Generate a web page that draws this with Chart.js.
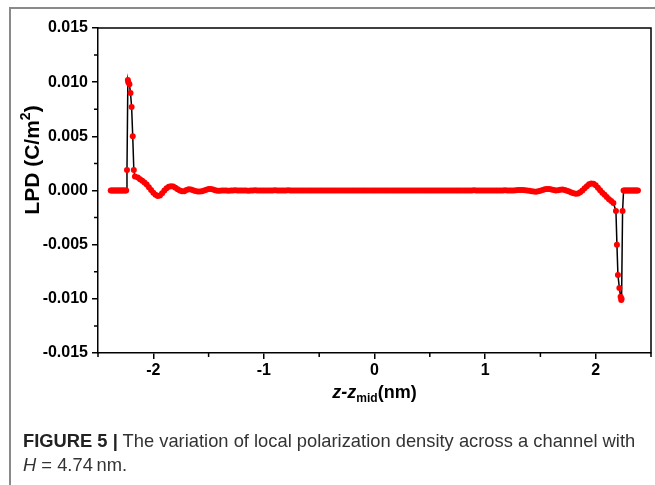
<!DOCTYPE html>
<html>
<head>
<meta charset="utf-8">
<script src="https://cdn.jsdelivr.net/npm/chart.js@4.4.1/dist/chart.umd.min.js"></script>
<style>
  body { margin: 0; background: #fff; }
  #wrap { position: relative; width: 655px; height: 485px; overflow: hidden; }
  #frame { position: absolute; left: 9px; top: 7px; width: 660px; height: 490px;
           border-left: 2px solid #8a8a8a; border-top: 2px solid #8a8a8a; }
  #caption { position: absolute; left: 23px; top: 429px; white-space: nowrap;
             font-family: "Liberation Sans", Arial, sans-serif;
             font-size: 19px; line-height: 24px; color: #333;
             transform: scaleX(0.965); transform-origin: 0 0; }
  #caption b { color: #222; }
</style>
</head>
<body>
<div id="wrap">
  <canvas id="lpdChart" width="655" height="485"></canvas>
  <div id="frame"></div>
  <div id="caption"><b>FIGURE 5 |</b> The variation of local polarization density across a channel with<br><i>H</i> = 4.74&#8201;nm.</div>
</div>
<script>
// left edge: flat part, then the spike
const zLeftFlat = [-2.385, -2.375, -2.365, -2.355, -2.345, -2.335, -2.325, -2.315, -2.305, -2.295, -2.285, -2.275, -2.265, -2.255, -2.245];
const lpdLeftFlat = [0, 0, 0, 0, 0, 0, 0, 0, 0, 0, 0, 0, 0, 0, 0];
const zLeftPeak = [-2.238, -2.230, -2.226, -2.216, -2.206, -2.196, -2.186, -2.176, -2.166];
const lpdLeftPeak = [0.0019, 0.0102, 0.0100, 0.0098, 0.0090, 0.0077, 0.0050, 0.0019, 0.0013];

// channel interior (values in 1e-4 C/m^2)
const zCore = [
  -2.14, -2.12, -2.10, -2.08, -2.06, -2.04, -2.02, -2.00, -1.98, -1.96,
  -1.94, -1.92, -1.90, -1.88, -1.86, -1.84, -1.82, -1.80, -1.78, -1.76,
  -1.74, -1.72, -1.70, -1.68, -1.66, -1.64, -1.62, -1.60, -1.58, -1.56,
  -1.54, -1.52, -1.50, -1.48, -1.46, -1.44, -1.42, -1.40, -1.38, -1.36,
  -1.34, -1.32, -1.30, -1.28, -1.26, -1.24, -1.22, -1.20, -1.18, -1.16,
  -1.14, -1.12, -1.10, -1.08, -1.06, -1.04, -1.02, -1.00, -0.98, -0.96,
  -0.94, -0.92, -0.90, -0.88, -0.86, -0.84, -0.82, -0.80, -0.78, -0.76,
  -0.74, -0.72, -0.70, -0.68, -0.66, -0.64, -0.62, -0.60, -0.58, -0.56,
  -0.54, -0.52, -0.50, -0.48, -0.46, -0.44, -0.42, -0.40, -0.38, -0.36,
  -0.34, -0.32, -0.30, -0.28, -0.26, -0.24, -0.22, -0.20, -0.18, -0.16,
  -0.14, -0.12, -0.10, -0.08, -0.06, -0.04, -0.02, 0.00, 0.02, 0.04,
  0.06, 0.08, 0.10, 0.12, 0.14, 0.16, 0.18, 0.20, 0.22, 0.24,
  0.26, 0.28, 0.30, 0.32, 0.34, 0.36, 0.38, 0.40, 0.42, 0.44,
  0.46, 0.48, 0.50, 0.52, 0.54, 0.56, 0.58, 0.60, 0.62, 0.64,
  0.66, 0.68, 0.70, 0.72, 0.74, 0.76, 0.78, 0.80, 0.82, 0.84,
  0.86, 0.88, 0.90, 0.92, 0.94, 0.96, 0.98, 1.00, 1.02, 1.04,
  1.06, 1.08, 1.10, 1.12, 1.14, 1.16, 1.18, 1.20, 1.22, 1.24,
  1.26, 1.28, 1.30, 1.32, 1.34, 1.36, 1.38, 1.40, 1.42, 1.44,
  1.46, 1.48, 1.50, 1.52, 1.54, 1.56, 1.58, 1.60, 1.62, 1.64,
  1.66, 1.68, 1.70, 1.72, 1.74, 1.76, 1.78, 1.80, 1.82, 1.84,
  1.86, 1.88, 1.90, 1.92, 1.94, 1.96, 1.98, 2.00, 2.02, 2.04,
  2.06, 2.08, 2.10, 2.12, 2.14, 2.16
];
const lpdCore = [
  12, 10.5, 9, 7.5, 5.5, 3, 0.5, -2, -4, -5,
  -4.5, -2.5, 0, 2, 3.5, 4, 3.6, 2.6, 1.2, 0,
  -0.8, -0.6, 0.4, 1.2, 1.0, 0.3, -0.4, -0.9, -1.0, -0.7,
  0, 0.8, 1.3, 1.4, 0.9, 0.2, -0.2, -0.3, -0.1, 0.1,
  0, -0.2, -0.1, 0.1, 0.2, 0, -0.1, 0, 0.1, 0,
  -0.2, -0.1, 0.1, 0.2, 0.1, 0, -0.1, 0, 0.1, 0,
  -0.1, 0, 0.2, 0.1, 0, -0.1, 0, 0.1, 0.2, 0.1,
  0, -0.1, 0, 0.1, 0, -0.1, 0, 0.1, 0, 0,
  -0.1, 0, 0.1, 0.1, 0, -0.1, 0, 0.1, 0, -0.1,
  0, 0.1, 0.1, 0, -0.1, 0, 0.1, 0, 0, -0.1,
  0, 0.1, 0, -0.1, 0, 0.1, 0, 0, -0.1, 0,
  0.1, 0, -0.1, 0, 0.1, 0.1, 0, -0.1, 0, 0.1,
  0, 0, -0.1, 0, 0.1, 0, -0.1, 0, 0.1, 0.1,
  0, -0.1, 0, 0.1, 0, -0.1, 0, 0.1, 0, 0,
  -0.1, 0, 0.1, 0.1, 0, -0.1, 0, 0.1, 0, -0.1,
  0, 0.1, 0.2, 0.1, 0, -0.1, 0, 0.1, 0, -0.1,
  0, 0.1, 0, -0.1, 0, 0.1, 0.2, 0.1, 0, -0.1,
  0, 0.2, 0.4, 0.5, 0.4, 0.2, 0, -0.3, -0.7, -1.0,
  -1.1, -0.8, -0.2, 0.5, 1.1, 1.4, 1.3, 0.9, 0.4, 0.1,
  0.3, 0.8, 0.9, 0.5, -0.2, -1.0, -1.9, -2.6, -3.0, -2.7,
  -1.6, 0, 2, 4, 5.7, 6.5, 6.2, 4.8, 2.6, 0.3,
  -2, -4, -6, -8, -9.8, -11.5
];

// right edge: spike, then flat part
const zRightPeak = [2.183, 2.192, 2.201, 2.214, 2.225, 2.231, 2.234, 2.243, 2.252];
const lpdRightPeak = [-0.0019, -0.0050, -0.0078, -0.0090, -0.0098, -0.0101, -0.0100, -0.0019, 0];
const zRightFlat = [2.262, 2.272, 2.282, 2.292, 2.302, 2.312, 2.322, 2.332, 2.342, 2.352, 2.362, 2.372, 2.382];
const lpdRightFlat = [0, 0, 0, 0, 0, 0, 0, 0, 0, 0, 0, 0, 0];

const xTicks = [-2, -1, 0, 1, 2];
const xMinorTicks = [-2.5, -1.5, -0.5, 0.5, 1.5, 2.5];
const yTicks = [-0.015, -0.010, -0.005, 0, 0.005, 0.010, 0.015];
const yMinorTicks = [-0.0125, -0.0075, -0.0025, 0.0025, 0.0075, 0.0125];

function pairs(zs, vals, scale) {
    return zs.map((z, i) => ({ x: z, y: vals[i] * scale }));
}

const points = [].concat(
    pairs(zLeftFlat, lpdLeftFlat, 1),
    pairs(zLeftPeak, lpdLeftPeak, 1),
    pairs(zCore, lpdCore, 1e-4),
    pairs(zRightPeak, lpdRightPeak, 1),
    pairs(zRightFlat, lpdRightFlat, 1)
);

const boldFont = '"Liberation Sans", Arial, sans-serif';

const decorPlugin = {
    id: 'decor',
    afterDraw(chart) {
        const ctx = chart.ctx;
        const a = chart.chartArea;
        const xs = chart.scales.x, ys = chart.scales.y;
        ctx.save();
        ctx.strokeStyle = '#000';
        ctx.lineWidth = 1.5;
        // box top and right
        ctx.beginPath();
        ctx.moveTo(a.left, a.top);
        ctx.lineTo(a.right, a.top);
        ctx.lineTo(a.right, a.bottom);
        ctx.stroke();
        // minor ticks
        ctx.beginPath();
        xMinorTicks.forEach(v => {
            const px = xs.getPixelForValue(v);
            ctx.moveTo(px, a.bottom);
            ctx.lineTo(px, a.bottom + 4);
        });
        yMinorTicks.forEach(v => {
            const py = ys.getPixelForValue(v);
            ctx.moveTo(a.left, py);
            ctx.lineTo(a.left - 4, py);
        });
        ctx.stroke();

        ctx.fillStyle = '#000';
        ctx.textBaseline = 'alphabetic';
        // x title: z-z_mid(nm)
        const big = 'bold 18px ' + boldFont;
        const bigIt = 'italic bold 18px ' + boldFont;
        const small = 'bold 12px ' + boldFont;
        ctx.font = bigIt; const w1 = ctx.measureText('z-z').width;
        ctx.font = small; const w2 = ctx.measureText('mid').width;
        ctx.font = big; const w3 = ctx.measureText('(nm)').width;
        let x0 = (a.left + a.right) / 2 - (w1 + w2 + w3) / 2;
        const by = 398;
        ctx.textAlign = 'left';
        ctx.font = bigIt; ctx.fillText('z-z', x0, by); x0 += w1;
        ctx.font = small; ctx.fillText('mid', x0, by + 4); x0 += w2;
        ctx.font = big; ctx.fillText('(nm)', x0, by);

        // y title: LPD (C/m^2)
        const yb = 'bold 21px ' + boldFont;
        const ys2 = 'bold 14px ' + boldFont;
        ctx.font = yb; const t1 = ctx.measureText('LPD (C/m').width;
        ctx.font = ys2; const t2 = ctx.measureText('2').width;
        ctx.font = yb; const t3 = ctx.measureText(')').width;
        ctx.translate(39, 160);
        ctx.rotate(-Math.PI / 2);
        let s = -(t1 + t2 + t3) / 2;
        ctx.font = yb; ctx.fillText('LPD (C/m', s, 0); s += t1;
        ctx.font = ys2; ctx.fillText('2', s, -9); s += t2;
        ctx.font = yb; ctx.fillText(')', s, 0);
        ctx.restore();
    }
};

new Chart(document.getElementById('lpdChart'), {
    type: 'scatter',
    data: {
        datasets: [{
            data: points,
            showLine: true,
            borderColor: '#000',
            borderWidth: 1.5,
            pointRadius: 3,
            pointBackgroundColor: '#ff0000',
            pointBorderWidth: 0,
            tension: 0
        }]
    },
    options: {
        responsive: false,
        animation: false,
        layout: { padding: { top: 28, right: 3, left: 0, bottom: 0 } },
        plugins: { legend: { display: false }, tooltip: { enabled: false } },
        scales: {
            x: {
                type: 'linear',
                min: -2.5, max: 2.5,
                afterBuildTicks: s => { s.ticks = xTicks.map(v => ({ value: v })); },
                afterFit: s => { s.height = 132; },
                ticks: { color: '#000', font: { family: boldFont, size: 16, weight: 'bold' }, padding: 2, maxRotation: 0,
                         callback: v => String(v) },
                grid: { drawOnChartArea: false, tickLength: 6, color: '#000', lineWidth: 1.5 },
                border: { color: '#000', width: 1.5 }
            },
            y: {
                min: -0.015, max: 0.015,
                afterBuildTicks: s => { s.ticks = yTicks.map(v => ({ value: v })); },
                afterFit: s => { s.width = 98; },
                ticks: { color: '#000', font: { family: boldFont, size: 16, weight: 'bold' }, padding: 4,
                         callback: v => v.toFixed(3) },
                grid: { drawOnChartArea: false, tickLength: 6, color: '#000', lineWidth: 1.5 },
                border: { color: '#000', width: 1.5 }
            }
        }
    },
    plugins: [decorPlugin]
});
</script>
</body>
</html>
